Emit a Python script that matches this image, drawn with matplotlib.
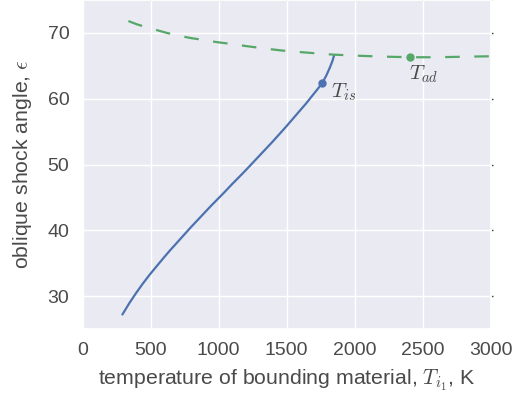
import matplotlib
matplotlib.use("Agg")
import matplotlib.pyplot as plt
import seaborn as sns

# blue solid curve (T_is branch)
blue_x = [293, 343, 393, 443, 493, 543, 593, 643, 693, 743, 793, 843, 893, 943, 993,
          1043, 1093, 1143, 1193, 1243, 1293, 1343, 1393, 1443, 1493, 1543, 1593, 1643,
          1693, 1730, 1764, 1790, 1818, 1835, 1848]
blue_y = [27.2, 28.9, 30.45, 31.9, 33.25, 34.5, 35.75, 36.95, 38.1, 39.25, 40.4, 41.5,
          42.6, 43.7, 44.75, 45.8, 46.9, 47.95, 49.0, 50.1, 51.2, 52.3, 53.4, 54.55, 55.7,
          56.9, 58.1, 59.3, 60.6, 61.55, 62.5, 63.5, 64.8, 65.7, 66.6]
# green dashed curve (T_ad branch)
green_x = [337, 400, 480, 550, 619, 700, 800, 900, 985, 1100, 1200, 1350, 1474, 1650,
           1841, 2000, 2200, 2408, 2600, 2800, 3000]
green_y = [71.8, 71.3, 70.8, 70.4, 70.0, 69.6, 69.2, 68.9, 68.6, 68.3, 68.0, 67.6, 67.3, 67.0,
           66.7, 66.55, 66.4, 66.3, 66.3, 66.38, 66.45]

pt_is = (1760, 62.4)
pt_ad = (2408, 66.3)

sns.set_theme(style="darkgrid", context="notebook")
plt.rcParams['font.family'] = ['Liberation Sans', 'DejaVu Sans']
plt.rcParams['mathtext.fontset'] = 'cm'

fig = plt.figure(figsize=(5.21, 4.04), dpi=100)
ax = fig.add_axes([82.5/521, 75/404, (491-82.5)/521, 329/404])

blue = "#4C72B0"
green = "#55A868"
txt = '#4a4a4a'
ax.plot(blue_x, blue_y, color=blue, lw=1.6)
ax.plot(green_x, green_y, color=green, lw=1.6, dashes=(6.55, 6.55))
ax.plot(*pt_is, 'o', color=blue, ms=5)
ax.plot(*pt_ad, 'o', color=green, ms=5)
ax.text(1825, 61.0, r'$T_{is}$', fontsize=15, color=txt, va='center', ha='left')
ax.text(2395, 63.7, r'$T_{ad}$', fontsize=15, color=txt, va='center', ha='left')

ax.set_xlim(0, 3000)
ax.set_ylim(25, 75)
ax.set_xticks([0, 500, 1000, 1500, 2000, 2500, 3000])
ax.set_yticks([30, 40, 50, 60, 70])
ax.tick_params(axis='both', labelsize=14, labelcolor=txt, length=1.5, width=1,
               color='#444444', direction='out', pad=8)
ax.tick_params(right=True, top=True)
ax.set_xlabel(r'temperature of bounding material, $T_{i_1}$, K', fontsize=15.3, color=txt, labelpad=6)
ax.set_ylabel(r'oblique shock angle, $\epsilon$', fontsize=15.3, color=txt, labelpad=10)

fig.savefig("out.png", dpi=100)
